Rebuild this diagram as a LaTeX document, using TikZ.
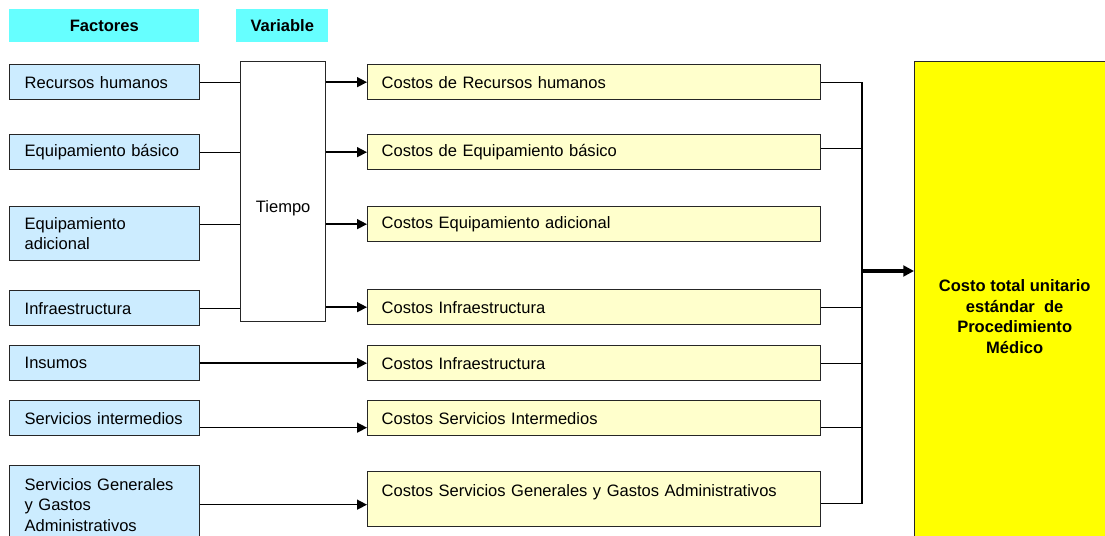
\documentclass[tikz,border=0pt]{standalone}
\usepackage{fontspec}
\setmainfont{Liberation Sans}
\usetikzlibrary{arrows.meta,calc}

\definecolor{headcyan}{HTML}{66FFFF}
\definecolor{factblue}{HTML}{CCECFF}
\definecolor{costyellow}{HTML}{FFFFCC}
\definecolor{totalyellow}{HTML}{FFFF00}

\begin{document}
\begin{tikzpicture}[
  x=0.75pt, y=-0.75pt,
  font=\fontsize{12.4}{15.4}\selectfont,
  box/.style={draw=black!85, line width=1pt, anchor=north west, inner ysep=0pt, align=left},
  head/.style={fill=headcyan, anchor=north west, inner sep=0pt, minimum height=24.75pt,
    font=\fontsize{12.4}{15.4}\selectfont\bfseries},
  factor/.style={box, fill=factblue, text width=120pt, inner xsep=11.25pt, minimum height=26.25pt},
  cost/.style={box, fill=costyellow, text width=318.75pt, inner xsep=10.5pt, minimum height=26.25pt},
  link/.style={line width=0.8pt},
  arr/.style={line width=1.1pt, -{Triangle[length=7.5pt, width=7.5pt]}},
  bigarr/.style={line width=3pt, -{Triangle[length=8pt, width=8pt]}},
]
  \useasboundingbox (0,0) rectangle (1105,535);

  % Headers
  \node[head, minimum width=142.5pt] (hfac) at (9,9) {Factores};
  \node[head, minimum width=69pt] (hvar) at (236,9) {Variable};

  % Factors
  \node[factor] (rh)  at (9,64)  {Recursos humanos};
  \node[factor] (eb)  at (9,134) {Equipamiento básico};
  \node[factor, minimum height=40.5pt] (ea) at (9,206) {Equipamiento\\adicional};
  \node[factor] (inf) at (9,290) {Infraestructura};
  \node[factor] (ins) at (9,345) {Insumos};
  \node[factor] (si)  at (9,400) {Servicios intermedios};
  \node[factor, minimum height=58.5pt] (sg) at (9,465)
    {Servicios Generales\\y Gastos\\Administrativos};

  % Variable
  \node[box, fill=white, align=center, minimum width=63.75pt, minimum height=195pt,
    text height=34.5pt, text depth=3pt] (tiempo) at (240,61) {Tiempo};

  % Costs
  \node[cost] (crh)  at (367,64)  {Costos de Recursos humanos};
  \node[cost] (ceb)  at (367,134) {Costos de Equipamiento básico};
  \node[cost] (cea)  at (367,206) {Costos Equipamiento adicional};
  \node[cost] (cinf) at (367,289) {Costos Infraestructura};
  \node[cost] (cins) at (367,345) {Costos Infraestructura};
  \node[cost] (csi)  at (367,400) {Costos Servicios Intermedios};
  \node[cost, text height=18.75pt, text depth=22.5pt] (csg) at (367,471)
    {Costos Servicios Generales y Gastos Administrativos};

  % Total
  \node[box, fill=totalyellow, align=center, minimum width=150pt, minimum height=382.5pt,
    font=\fontsize{12.4}{15.4}\selectfont\bfseries] (total) at (914,61)
    {Costo total unitario\\estándar~ de\\Procedimiento\\Médico};

  % Factors -> Tiempo -> costs
  \draw[link] (rh.east) -- (rh.east -| tiempo.west);
  \draw[link] (eb.east) -- (eb.east -| tiempo.west);
  \draw[link] (cea.west -| ea.east) -- (cea.west -| tiempo.west);
  \draw[link] (inf.east) -- (inf.east -| tiempo.west);
  \draw[arr] (crh.west -| tiempo.east) -- (crh.west);
  \draw[arr] (ceb.west -| tiempo.east) -- (ceb.west);
  \draw[arr] (cea.west -| tiempo.east) -- (cea.west);
  \draw[arr] (cinf.west -| tiempo.east) -- (cinf.west);

  % Direct factors -> costs
  \coordinate (siin) at ($(csi.west)+(0,9.5)$);
  \draw[arr] (ins.east) -- (cins.west);
  \draw[arr] (siin -| si.east) -- (siin);
  \draw[arr] (sg.east) -- (sg.east -| csg.west);

  % Collector bus
  \coordinate (bus) at (862,271);
  \coordinate (sgout) at ($(csg.east)+(0,4.5)$);
  \draw[link] (crh.east) -- (crh.east -| bus) -- (sgout -| bus) -- (sgout);
  \draw[link] ($(ceb.east)+(0,-3.5)$) -- ($(ceb.east -| bus)+(0,-3.5)$);
  \draw[link] (cinf.east) -- (cinf.east -| bus);
  \draw[link] (cins.east) -- (cins.east -| bus);
  \draw[link] ($(csi.east)+(0,9.5)$) -- ($(csi.east -| bus)+(0,9.5)$);
  \draw[bigarr] (bus) -- (bus -| total.west);
\end{tikzpicture}
\end{document}
